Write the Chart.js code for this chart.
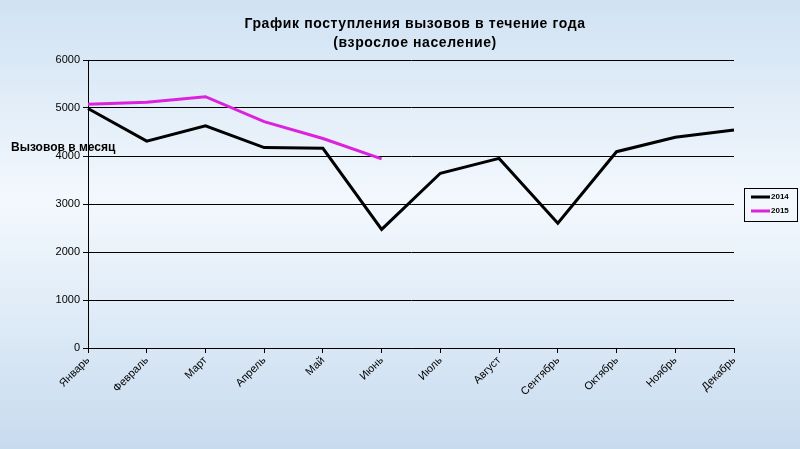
<!DOCTYPE html>
<html>
<head>
<meta charset="utf-8">
<script src="https://cdn.jsdelivr.net/npm/chart.js@4/dist/chart.umd.min.js"></script>
<style>
  html, body { margin: 0; padding: 0; overflow: hidden; }
  canvas { display: block; }
</style>
</head>
<body>
<canvas id="callsChart" width="800" height="449"></canvas>
<script>
const months = ['Январь', 'Февраль', 'Март', 'Апрель', 'Май', 'Июнь', 'Июль', 'Август', 'Сентябрь', 'Октябрь', 'Ноябрь', 'Декабрь'];
const calls2014 = [4990, 4310, 4630, 4175, 4160, 2470, 3640, 3950, 2600, 4090, 4390, 4540];
const calls2015 = [5080, 5120, 5235, 4715, 4365, 3940];
const seriesNames = ['2014', '2015'];
const seriesColors = ['#000000', '#dd22dd'];
const yTicks = [0, 1000, 2000, 3000, 4000, 5000, 6000];
const titleLines = ['График поступления вызовов в течение года', '(взрослое население)'];
const yTitle = 'Вызовов в месяц';

const FONT = '"Liberation Sans", Arial, sans-serif';

// background gradient + title, axis title and legend box
const decorPlugin = {
  id: 'decor',
  beforeDraw(chart) {
    const { ctx, width, height } = chart;
    const g = ctx.createLinearGradient(0, 0, 0, height);
    g.addColorStop(0, '#d0e2f3');
    g.addColorStop(0.45, '#f3f8fd');
    g.addColorStop(1, '#c7dbef');
    ctx.save();
    ctx.fillStyle = g;
    ctx.fillRect(0, 0, width, height);
    ctx.restore();
  },
  afterDraw(chart) {
    const { ctx } = chart;
    ctx.save();
    ctx.fillStyle = '#000';
    ctx.textAlign = 'center';
    ctx.textBaseline = 'middle';
    ctx.font = 'bold 14px ' + FONT;
    ctx.letterSpacing = '0.6px';
    ctx.fillText(titleLines[0], 415, 24);
    ctx.fillText(titleLines[1], 415, 43);
    ctx.letterSpacing = '0px';

    ctx.textAlign = 'left';
    ctx.font = 'bold 12px ' + FONT;
    ctx.fillText(yTitle, 11, 148);

    // legend
    ctx.strokeStyle = '#000';
    ctx.lineWidth = 1;
    ctx.strokeRect(744.5, 188.5, 53, 33);
    ctx.font = 'bold 8px ' + FONT;
    seriesNames.forEach((name, i) => {
      const y = 197 + i * 14;
      ctx.strokeStyle = seriesColors[i];
      ctx.lineWidth = 3;
      ctx.beginPath();
      ctx.moveTo(751, y);
      ctx.lineTo(770, y);
      ctx.stroke();
      ctx.fillStyle = '#000';
      ctx.fillText(name, 771, y);
    });
    ctx.restore();
  }
};

new Chart(document.getElementById('callsChart'), {
  type: 'line',
  data: {
    labels: months,
    datasets: [
      { label: seriesNames[0], data: calls2014, borderColor: seriesColors[0], borderWidth: 3, pointRadius: 0, tension: 0, fill: false },
      { label: seriesNames[1], data: calls2015, borderColor: seriesColors[1], borderWidth: 3, pointRadius: 0, tension: 0, fill: false }
    ]
  },
  options: {
    responsive: false,
    animation: false,
    devicePixelRatio: 1,
    layout: { padding: { top: 60, right: 66, left: 0, bottom: 0 } },
    plugins: {
      legend: { display: false },
      title: { display: false },
      tooltip: { enabled: false }
    },
    scales: {
      x: {
        offset: false,
        afterFit(scale) { scale.height = 101; },
        grid: { drawOnChartArea: false, drawTicks: true, tickLength: 5, color: '#000' },
        border: { display: true, color: '#000', width: 1 },
        ticks: {
          color: '#000',
          font: { family: FONT, size: 11 },
          minRotation: 45,
          maxRotation: 45,
          autoSkip: false,
          padding: 1
        }
      },
      y: {
        min: yTicks[0],
        max: yTicks[yTicks.length - 1],
        afterFit(scale) { scale.width = 88; },
        afterBuildTicks(scale) { scale.ticks = yTicks.map(v => ({ value: v })); },
        grid: { color: '#000', lineWidth: 1, drawTicks: true, tickLength: 5 },
        border: { display: true, color: '#000', width: 1 },
        ticks: {
          color: '#000',
          font: { family: FONT, size: 11 },
          padding: 3,
          callback: v => String(v)
        }
      }
    }
  },
  plugins: [decorPlugin]
});
</script>
</body>
</html>
